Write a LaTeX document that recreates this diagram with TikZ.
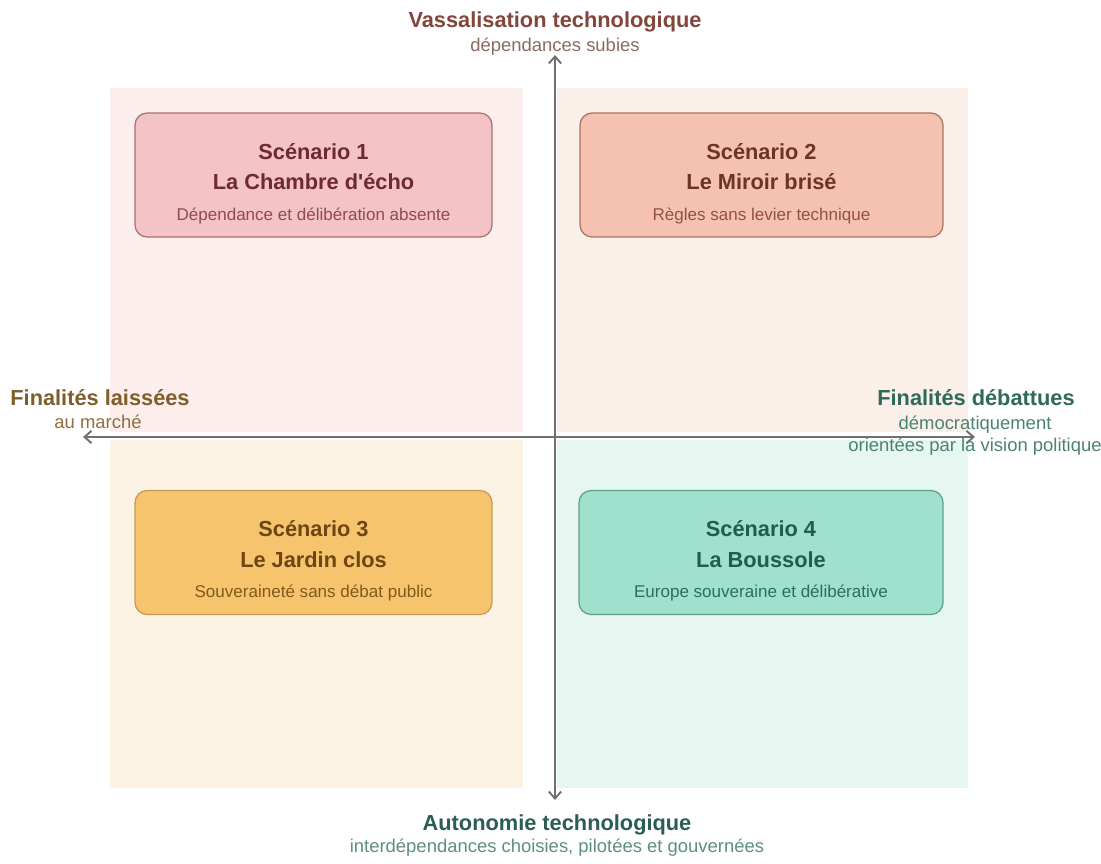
\documentclass[tikz,border=0pt]{standalone}
\usepackage{fontspec}
\setmainfont{Liberation Sans}
\usetikzlibrary{arrows.meta}

\definecolor{axisgrey}{HTML}{707070}
\definecolor{bgone}{HTML}{FCEEED}
\definecolor{bgtwo}{HTML}{FBEFEA}
\definecolor{bgthree}{HTML}{FBF2E4}
\definecolor{bgfour}{HTML}{E6F6F0}
\definecolor{fillone}{HTML}{F3C3C5}
\definecolor{lineone}{HTML}{A77174}
\definecolor{textone}{HTML}{6E2B2E}
\definecolor{subone}{HTML}{914A50}
\definecolor{filltwo}{HTML}{F5C2B1}
\definecolor{linetwo}{HTML}{A9735F}
\definecolor{texttwo}{HTML}{6D3326}
\definecolor{subtwo}{HTML}{945042}
\definecolor{fillthree}{HTML}{F7C46E}
\definecolor{linethree}{HTML}{C39C52}
\definecolor{textthree}{HTML}{6E4513}
\definecolor{subthree}{HTML}{80591D}
\definecolor{fillfour}{HTML}{9FE1CD}
\definecolor{linefour}{HTML}{5F9F8B}
\definecolor{textfour}{HTML}{1F5D4C}
\definecolor{subfour}{HTML}{2E6D5C}
\definecolor{vastitle}{HTML}{83463C}
\definecolor{vassub}{HTML}{8B6A63}
\definecolor{marchetitle}{HTML}{7E5E2A}
\definecolor{marchesub}{HTML}{8E7040}
\definecolor{debattitle}{HTML}{2F6A59}
\definecolor{debatsub}{HTML}{4B8373}
\definecolor{autotitle}{HTML}{2B5D52}
\definecolor{autosub}{HTML}{5E8E82}

\begin{document}
\begin{tikzpicture}[x=0.02cm,y=-0.02cm,
  axis/.style={axisgrey,line width=1.1pt,{Straight Barb[length=4pt,width=7pt]}-{Straight Barb[length=4pt,width=7pt]}},
  axtitle/.style={font=\fontsize{12.4}{15}\selectfont\bfseries,inner sep=0pt},
  axsub/.style={font=\fontsize{10.5}{12.5}\selectfont,align=center,inner sep=0pt},
  scenbox/.style={rounded corners=6.8pt,line width=0.7pt,minimum width=7.14cm,minimum height=2.48cm},
  scentext/.style={font=\fontsize{12.4}{17.4}\selectfont\bfseries,align=center,inner sep=0pt}]
\useasboundingbox (0,0) rectangle (1101,863);
% quadrants
\fill[bgone] (110,88) rectangle (523,432);
\fill[bgtwo] (557,88) rectangle (968,432);
\fill[bgthree] (110,440) rectangle (523,788);
\fill[bgfour] (557,440) rectangle (968,788);
% axes
\coordinate (ytop) at (555,55);
\coordinate (ybot) at (555,800);
\coordinate (xleft) at (83,437);
\coordinate (xright) at (975,437);
\draw[axis] (ybot) -- (ytop);
\draw[axis] (xleft) -- (xright);
% axis labels
\node[axtitle,text=vastitle] (vas) at (555,22) {Vassalisation technologique};
\node[axsub,text=vassub] (vassub) at (555,47) {dépendances subies};
\node[axtitle,text=autotitle] (auto) at (557,825) {Autonomie technologique};
\node[axsub,text=autosub] (autosub) at (557,848) {interdépendances choisies, pilotées et gouvernées};
\node[axtitle,text=marchetitle] (marche) at (100,398) {Finalités laissées};
\node[axsub,text=marchesub] (marchesub) at (98,422) {au marché};
\node[axtitle,text=debattitle] (debat) at (976,398) {Finalités débattues};
\node[axsub,text=debatsub] (debatsub) at (975,436) {démocratiquement\\orientées par la vision politique};
% scenarios
\node[scenbox,fill=fillone,draw=lineone] (s1) at (313.5,175) {};
\node[scenbox,fill=filltwo,draw=linetwo,minimum width=7.26cm] (s2) at (761.5,175) {};
\node[scenbox,fill=fillthree,draw=linethree] (s3) at (313.5,552.5) {};
\node[scenbox,fill=fillfour,draw=linefour,minimum width=7.28cm] (s4) at (761,552.5) {};
\node[scentext,text=textone] (t1) at (313.5,183.5) {Scénario 1\\La Chambre d\textquotesingle écho\\{\fontsize{9.7}{17.4}\selectfont\mdseries\color{subone}Dépendance et délibération absente}};
\node[scentext,text=texttwo] (t2) at (761.5,183.5) {Scénario 2\\Le Miroir brisé\\{\fontsize{9.7}{17.4}\selectfont\mdseries\color{subtwo}Règles sans levier technique}};
\node[scentext,text=textthree] (t3) at (313.5,561) {Scénario 3\\Le Jardin clos\\{\fontsize{9.7}{17.4}\selectfont\mdseries\color{subthree}Souveraineté sans débat public}};
\node[scentext,text=textfour] (t4) at (761,561) {Scénario 4\\La Boussole\\{\fontsize{9.7}{17.4}\selectfont\mdseries\color{subfour}Europe souveraine et délibérative}};
\end{tikzpicture}
\end{document}
